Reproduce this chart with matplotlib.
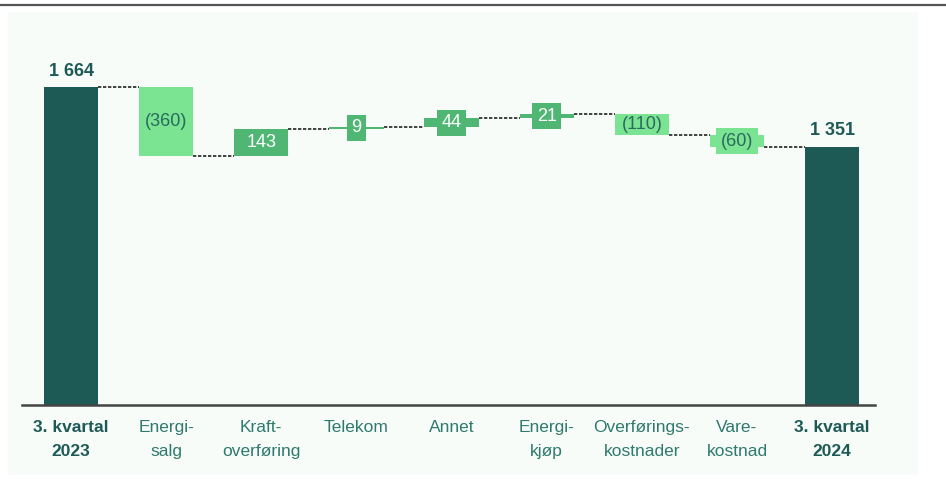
import matplotlib.pyplot as plt
from matplotlib.patches import Rectangle
from matplotlib.lines import Line2D

# === Data ===
categories = ["3. kvartal\n2023", "Energi-\nsalg", "Kraft-\noverføring", "Telekom", "Annet",
              "Energi-\nkjøp", "Overførings-\nkostnader", "Vare-\nkostnad", "3. kvartal\n2024"]
start_value = 1664
deltas = [-360, 143, 9, 44, 21, -110, -60]
end_value = 1351

DARK = "#1d5a56"
UP = "#4fb673"
DOWN = "#7be493"
TXT = "#2f7a6e"

plt.rcParams['font.family'] = ['Liberation Sans Narrow', 'Liberation Sans', 'DejaVu Sans']

fig = plt.figure(figsize=(9.46, 4.88), dpi=100)
fig.patch.set_facecolor("white")
# panel background and top rule
fig.patches.append(Rectangle((8 / 946, 13 / 488), 910 / 946, 463 / 488, transform=fig.transFigure,
                             facecolor="#f8fcf9", edgecolor="none", zorder=-5))
fig.lines.append(Line2D([0, 1], [1 - 5 / 488, 1 - 5 / 488], transform=fig.transFigure,
                        color="#555555", lw=1.6, zorder=-4))

ax = fig.add_axes([22 / 946, 83 / 488, 853 / 946, 395 / 488])
ax.set_facecolor("none")
ax.set_xlim(-0.515, 8.45)
ax.set_ylim(0, 2068)
w = 0.57

# start bar
ax.bar(0, start_value, width=w, color=DARK, zorder=2)
ax.text(0, start_value + 40, "1 664", ha="center", va="bottom", fontsize=13,
        fontweight="bold", color=DARK)

running = start_value
for i, d in enumerate(deltas, start=1):
    base = running
    new = running + d
    lo, hi = min(base, new), max(base, new)
    col = UP if d > 0 else DOWN
    ax.bar(i, hi - lo, bottom=lo, width=w, color=col, zorder=2)
    # connector from previous bar
    ax.plot([i - 1 + w / 2, i - w / 2], [running, running], ls=(0, (2, 1)), color="#222222",
            lw=1.2, zorder=1)
    label = f"{d}" if d > 0 else f"({-d})"
    tcol = "white" if d > 0 else "#2a6a5e"
    mid = (lo + hi) / 2
    small = (hi - lo) < 100
    ax.text(i, mid, label, ha="center", va="center", fontsize=13, color=tcol, zorder=3,
            bbox=dict(boxstyle="square,pad=0.25", fc=col, ec="none") if small else None)
    running = new

# end bar
ax.plot([7 + w / 2, 8 - w / 2], [running, running], ls=(0, (2, 1)), color="#222222", lw=1.2, zorder=1)
ax.bar(8, end_value, width=w, color=DARK, zorder=2)
ax.text(8, end_value + 40, "1 351", ha="center", va="bottom", fontsize=13,
        fontweight="bold", color=DARK)

ax.set_xticks(range(len(categories)))
ax.set_xticklabels(categories, fontsize=12.5, color=TXT, linespacing=1.7)
for k in (0, 8):
    ax.get_xticklabels()[k].set_fontweight("bold")
    ax.get_xticklabels()[k].set_color(DARK)
ax.tick_params(axis="x", length=0, pad=11)
ax.set_yticks([])
for s in ("top", "right", "left"):
    ax.spines[s].set_visible(False)
ax.spines["bottom"].set_color("#444444")
ax.spines["bottom"].set_linewidth(1.8)
ax.spines["bottom"].set_zorder(4)

fig.savefig("out.png", dpi=100)
